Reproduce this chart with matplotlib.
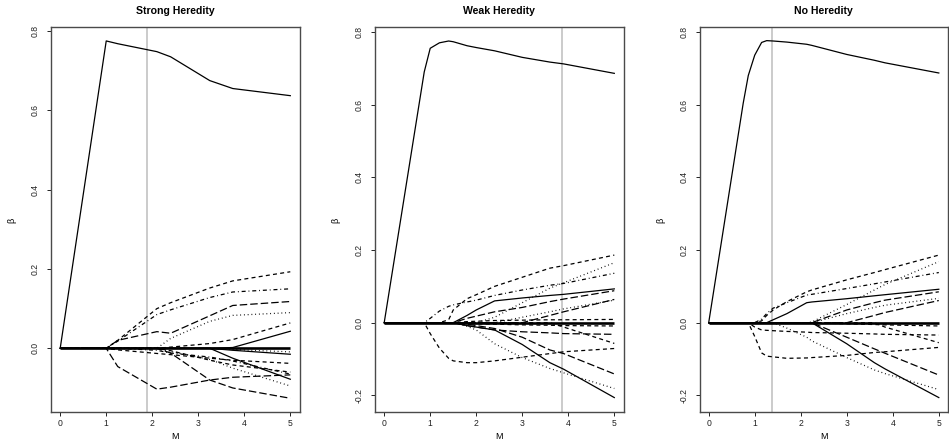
import matplotlib
matplotlib.use("Agg")
import matplotlib.pyplot as plt

plt.rcParams['font.family'] = ['Liberation Sans', 'DejaVu Sans']
plt.rcParams['axes.unicode_minus'] = False

titles = ["Strong Heredity", "Weak Heredity", "No Heredity"]
x_label = "M"
y_label = "β"
x_ticks = [0, 1, 2, 3, 4, 5]
y_ticks_strong = [0.0, 0.2, 0.4, 0.6, 0.8]
y_ticks_other = [-0.2, 0.0, 0.2, 0.4, 0.6, 0.8]
selected_m = [1.88, 3.87, 1.37]

# ---------------- Strong heredity ----------------
strong_x = [0, 1, 1.25, 2.1, 2.4, 3.25, 3.75, 5]
strong_styles = ["solid", "dashed", "dotdash", "longdash", "dotted", "dashed",
                 "solid", "dotted", "solid", "dashed", "dotdash", "dashed",
                 "solid", "dotted", "longdash", "longdash"]
strong_y = [
    [0, 0.775, 0.768, 0.748, 0.735, 0.675, 0.655, 0.637],
    [0, 0, 0.020, 0.100, 0.115, 0.152, 0.170, 0.193],
    [0, 0, 0.018, 0.085, 0.097, 0.128, 0.142, 0.150],
    [0, 0, 0.020, 0.042, 0.038, 0.082, 0.108, 0.118],
    [0, 0, 0, 0, 0.025, 0.068, 0.083, 0.090],
    [0, 0, 0, 0, 0.003, 0.012, 0.022, 0.064],
    [0, 0, 0, 0, 0, 0, 0.002, 0.043],
    [0, 0, 0, 0, 0, 0, -0.003, -0.009],
    [0, 0, 0, 0, 0, 0, -0.005, -0.015],
    [0, 0, -0.004, -0.013, -0.016, -0.025, -0.030, -0.038],
    [0, 0, 0, -0.005, -0.012, -0.022, -0.032, -0.065],
    [0, 0, 0, 0, -0.006, -0.030, -0.042, -0.060],
    [0, 0, 0, 0, 0, 0, -0.025, -0.078],
    [0, 0, 0, 0, -0.008, -0.028, -0.050, -0.095],
    [0, 0, 0, 0, -0.012, -0.080, -0.100, -0.126],
    [0, 0, -0.046, -0.103, -0.098, -0.080, -0.073, -0.067],
]

# ---------------- Weak heredity ----------------
weak_x = [0, 0.87, 1.0, 1.2, 1.4, 1.5, 1.8, 2.0, 2.4, 3.0, 3.6, 3.9, 5.0]
weak_styles = ["solid", "dotdash", "dashed", "dotted", "solid", "longdash",
               "dotted", "longdash", "dashed", "dashed", "longdash", "dashed",
               "dashed", "longdash", "dotted", "solid"]
weak_y = [
    [0, 0.690, 0.755, 0.770, 0.775, 0.773, 0.762, 0.757, 0.748, 0.730, 0.717, 0.712, 0.686],
    [0, 0, 0.012, 0.032, 0.045, 0.049, 0.057, 0.062, 0.075, 0.090, 0.103, 0.108, 0.136],
    [0, 0, 0, 0, 0.008, 0.035, 0.066, 0.077, 0.100, 0.125, 0.150, 0.157, 0.186],
    [0, 0, 0, 0, 0, 0, 0, 0, 0.015, 0.055, 0.095, 0.110, 0.165],
    [0, 0, 0, 0, 0, 0, 0.020, 0.035, 0.060, 0.068, 0.075, 0.078, 0.093],
    [0, 0, 0, 0, 0, 0, 0.012, 0.018, 0.030, 0.042, 0.058, 0.065, 0.088],
    [0, 0, 0, 0, 0, 0, 0, 0, 0, 0.015, 0.030, 0.038, 0.062],
    [0, 0, 0, 0, 0, 0, 0, 0, 0, 0, 0.020, 0.030, 0.064],
    [0, 0, 0, 0, 0, 0, 0.003, 0.004, 0.006, 0.007, 0.008, 0.008, 0.009],
    [0, 0, 0, 0, 0, 0, -0.002, -0.003, -0.004, -0.006, -0.007, -0.008, -0.009],
    [0, 0, 0, 0, 0, 0, -0.008, -0.012, -0.020, -0.025, -0.028, -0.030, -0.032],
    [0, 0, 0, 0, 0, 0, 0, 0, 0, 0, 0, -0.012, -0.057],
    [0, 0, -0.030, -0.070, -0.098, -0.105, -0.110, -0.110, -0.105, -0.095, -0.085, -0.080, -0.071],
    [0, 0, 0, 0, 0, 0, -0.004, -0.008, -0.016, -0.040, -0.075, -0.085, -0.141],
    [0, 0, 0, 0, 0, 0, -0.010, -0.020, -0.058, -0.096, -0.126, -0.138, -0.181],
    [0, 0, 0, 0, 0, 0, -0.008, -0.012, -0.020, -0.060, -0.110, -0.128, -0.206],
]

# ---------------- No heredity ----------------
none_x = [0, 0.75, 0.86, 1.0, 1.15, 1.26, 1.4, 1.7, 2.13, 2.24, 3.0, 3.6, 3.83, 5.0]
none_styles = ["solid", "dashed", "dotdash", "dotted", "solid", "longdash",
               "dotted", "longdash", "dashed", "dashed", "dashed", "dashed",
               "longdash", "dotted", "solid"]
none_y = [
    [0, 0.604, 0.680, 0.736, 0.771, 0.776, 0.775, 0.772, 0.766, 0.763, 0.738, 0.722, 0.715, 0.687],
    [0, 0, 0, 0, 0.005, 0.020, 0.035, 0.058, 0.085, 0.090, 0.118, 0.138, 0.146, 0.186],
    [0, 0, 0, 0, 0.010, 0.025, 0.040, 0.055, 0.076, 0.078, 0.094, 0.107, 0.112, 0.138],
    [0, 0, 0, 0, 0, 0, 0, 0, 0, 0.002, 0.050, 0.090, 0.105, 0.168],
    [0, 0, 0, 0, 0, 0, 0.008, 0.025, 0.055, 0.057, 0.066, 0.074, 0.077, 0.092],
    [0, 0, 0, 0, 0, 0, 0, 0, 0, 0, 0.035, 0.055, 0.062, 0.085],
    [0, 0, 0, 0, 0, 0, 0, 0, 0, 0, 0.025, 0.042, 0.048, 0.067],
    [0, 0, 0, 0, 0, 0, 0, 0, 0, 0, 0, 0.020, 0.028, 0.061],
    [0, 0, 0, 0, 0, 0, 0, 0, 0, 0, -0.003, -0.005, -0.006, -0.009],
    [0, 0, 0, -0.012, -0.020, -0.021, -0.022, -0.024, -0.026, -0.027, -0.029, -0.031, -0.032, -0.034],
    [0, 0, 0, 0, 0, 0, 0, 0, 0, 0, 0, 0, -0.012, -0.055],
    [0, 0, 0, -0.038, -0.083, -0.092, -0.094, -0.098, -0.097, -0.096, -0.090, -0.082, -0.080, -0.068],
    [0, 0, 0, 0, 0, 0, 0, 0, 0, 0, -0.040, -0.072, -0.084, -0.144],
    [0, 0, 0, 0, 0, 0, 0, -0.015, -0.040, -0.050, -0.096, -0.130, -0.140, -0.184],
    [0, 0, 0, 0, 0, 0, 0, 0, 0, 0, -0.058, -0.110, -0.127, -0.206],
]

# R-like line types (on/off in points)
dash_patterns = {
    "solid": None,
    "dashed": (3.2, 2.6),
    "dotted": (0.7, 2.3),
    "dotdash": (0.7, 2.3, 3.2, 2.3),
    "longdash": (6.0, 2.4),
}

W, H = 949, 445
box_lefts = [51, 375, 699.5]
box_w = 248.5
box_top, box_bottom = 26.5, 412
ylims = [(-0.1606, 0.8114), (-0.2457, 0.8149), (-0.2457, 0.8149)]

fig = plt.figure(figsize=(W / 100, H / 100), dpi=100)

panels = [
    (strong_x, strong_y, strong_styles, y_ticks_strong),
    (weak_x, weak_y, weak_styles, y_ticks_other),
    (none_x, none_y, none_styles, y_ticks_other),
]

for i, (xs, ys, styles, yt) in enumerate(panels):
    ax = fig.add_axes([box_lefts[i] / W, (H - box_bottom) / H, box_w / W,
                       (box_bottom - box_top) / H])
    # zero (inactive) coefficients, many overlapping lines
    ax.plot([xs[0], xs[-1]], [0, 0], color="black", lw=1.9, solid_capstyle="butt", zorder=2)
    for yv, st in zip(ys, styles):
        line, = ax.plot(xs, yv, color="black", lw=0.9, zorder=3)
        if dash_patterns[st] is not None:
            line.set_dashes(dash_patterns[st])
    ax.axvline(selected_m[i], color="#bdbdbd", lw=1.1, zorder=1)
    ax.set_xlim(-0.2, 5.2)
    ax.set_ylim(*ylims[i])
    ax.set_xticks(x_ticks)
    ax.set_xticklabels([str(t) for t in x_ticks])
    ax.set_yticks(yt)
    ax.set_yticklabels([f"{t:.1f}" for t in yt], rotation=90, va="center")
    ax.tick_params(axis="both", direction="out", length=2.6, width=0.7,
                   labelsize=6.2, colors="#222222")
    ax.tick_params(axis="x", pad=2.6)
    ax.tick_params(axis="y", pad=5.5)
    for sp in ax.spines.values():
        sp.set_color("#4a4a4a")
        sp.set_linewidth(1.0)
    cx = (box_lefts[i] + box_w / 2) / W
    fig.text(cx, (H - 11) / H, titles[i], ha="center", va="center",
             fontsize=7.6, fontweight="bold")
    fig.text(cx, (H - 436.5) / H, x_label, ha="center", va="center", fontsize=6.5)
    fig.text((box_lefts[i] - 39) / W, (H - 220) / H, y_label, ha="center",
             va="center", rotation=90, fontsize=6.5)

fig.savefig("out.png", dpi=100)
